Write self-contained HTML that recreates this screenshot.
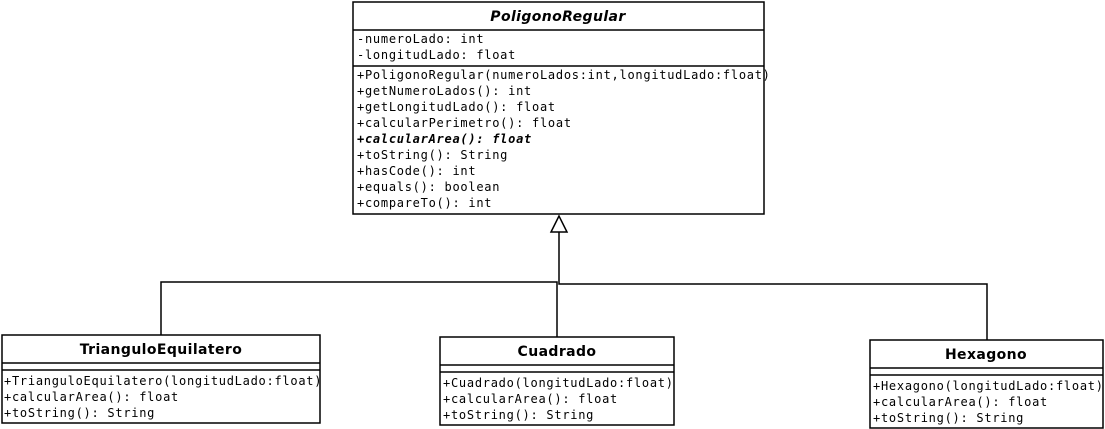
<!DOCTYPE html>
<html><head><meta charset="utf-8"><style>
html,body{margin:0;padding:0;background:#fff;}
svg{display:block;}
.m{font-family:"DejaVu Sans Mono","Liberation Mono",monospace;font-size:12px;letter-spacing:0.73px;fill:#000;}
.h{font-family:"DejaVu Sans","Liberation Sans",sans-serif;font-size:14px;letter-spacing:0.4px;font-weight:bold;fill:#000;text-anchor:middle;}
</style></head><body>
<svg width="1105" height="429" viewBox="0 0 1105 429" xmlns="http://www.w3.org/2000/svg">
<g fill="none" stroke="#000" stroke-width="1.5">
<rect x="353" y="2" width="411" height="212"/>
<line x1="353" y1="30" x2="764" y2="30"/>
<line x1="353" y1="66" x2="764" y2="66"/>
<rect x="2" y="335" width="318" height="88"/>
<line x1="2" y1="363" x2="320" y2="363"/>
<line x1="2" y1="370" x2="320" y2="370"/>
<rect x="440" y="337" width="234" height="88"/>
<line x1="440" y1="365" x2="674" y2="365"/>
<line x1="440" y1="372" x2="674" y2="372"/>
<rect x="870" y="340" width="233" height="88"/>
<line x1="870" y1="368" x2="1103" y2="368"/>
<line x1="870" y1="375" x2="1103" y2="375"/>
<polyline points="161,335 161,282 557,282 557,337"/>
<polyline points="559,232 559,284 987,284 987,340"/>
<polygon points="559,216 551,232 567,232" fill="#fff"/>
</g>
<text x="558" y="21" class="h" font-style="italic">PoligonoRegular</text>
<text class="m" x="357" y="43">-numeroLado: int</text>
<text class="m" x="357" y="59">-longitudLado: float</text>
<text class="m" x="357" y="79">+PoligonoRegular(numeroLados:int,longitudLado:float)</text>
<text class="m" x="357" y="95">+getNumeroLados(): int</text>
<text class="m" x="357" y="111">+getLongitudLado(): float</text>
<text class="m" x="357" y="127">+calcularPerimetro(): float</text>
<text class="m" x="357" y="143" font-weight="bold" font-style="italic">+calcularArea(): float</text>
<text class="m" x="357" y="159">+toString(): String</text>
<text class="m" x="357" y="175">+hasCode(): int</text>
<text class="m" x="357" y="191">+equals(): boolean</text>
<text class="m" x="357" y="207">+compareTo(): int</text>

<text x="161" y="354" class="h">TrianguloEquilatero</text>
<text class="m" x="4" y="385">+TrianguloEquilatero(longitudLado:float)</text>
<text class="m" x="4" y="401">+calcularArea(): float</text>
<text class="m" x="4" y="417">+toString(): String</text>

<text x="557" y="356" class="h">Cuadrado</text>
<text class="m" x="443" y="387">+Cuadrado(longitudLado:float)</text>
<text class="m" x="443" y="403">+calcularArea(): float</text>
<text class="m" x="443" y="419">+toString(): String</text>

<text x="986" y="359" class="h">Hexagono</text>
<text class="m" x="873" y="390">+Hexagono(longitudLado:float)</text>
<text class="m" x="873" y="406">+calcularArea(): float</text>
<text class="m" x="873" y="422">+toString(): String</text>
</svg>
</body></html>
